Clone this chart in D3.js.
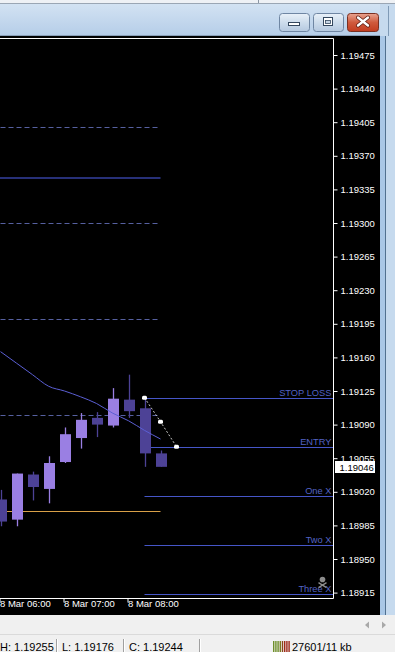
<!DOCTYPE html>
<meta charset="utf-8">
<style>
  body { margin: 0; background: #f0f0f0; }
  #chart { width: 395px; height: 652px; position: relative; overflow: hidden; }
  text { font-family: "Liberation Sans", Arial, sans-serif; }
</style>
<script src="https://d3js.org/d3.v7.min.js"></script>
<div id="chart"></div>
<script>
// M15 candles, 8 Mar
const times  = ["06:00","06:15","06:30","06:45","07:00","07:15","07:30","07:45","08:00","08:15","08:30"];
const open   = [1.19012,1.18991,1.19038,1.19023,1.19051,1.19076,1.19097,1.19089,1.19116,1.19107,1.19060];
const high   = [1.19022,1.19039,1.19041,1.19057,1.19087,1.19102,1.19103,1.19128,1.19142,1.19119,1.19063];
const low    = [1.18984,1.18984,1.19011,1.19008,1.19050,1.19065,1.19077,1.19087,1.19097,1.19046,1.19046];
const close  = [1.18989,1.19039,1.19025,1.19050,1.19080,1.19095,1.19090,1.19117,1.19104,1.19060,1.19046];
const maValues = [1.19166,1.19154,1.19142,1.19130,1.19125,1.19119,1.19112,1.19102,1.19094,1.19084,1.19075];

const priceTicks = [1.19475,1.19440,1.19405,1.19370,1.19335,1.19300,1.19265,1.19230,1.19195,
                    1.19160,1.19125,1.19090,1.19055,1.19020,1.18985,1.18950,1.18915];
const timeTicks = ["06:00","07:00","08:00"];

const dashedLevels = [1.19400,1.19300,1.19200,1.19100];
const solidLevels  = [1.19347];
const orangeLevels = [1.19000];
const levelEnd = "08:30";

const tradeNames  = ["STOP LOSS","ENTRY","One X","Two X","Three X"];
const tradePrices = [1.19118,1.19067,1.19016,1.18965,1.18914];
const tradeStart  = "08:15";

const triTimes  = ["08:15","08:30","08:45"];
const triPrices = [1.19118,1.19093,1.19067];

const lastPrice = 1.19046;
const statusTexts = ["H: 1.19255","L: 1.19176","C: 1.19244"];
const trafficText = "27601/11 kb";

const W = 395, H = 652;
const plot = {left: 0, top: 38.5, right: 333.5, bottom: 598.5};

const parse = d3.timeParse("%Y-%m-%d %H:%M");
const t = s => parse("2021-03-08 " + s);

const x = d3.scaleTime().domain([t("06:00"), t("08:00")]).range([0.5, 128.5]);
const y = d3.scaleLinear().domain([1.18915, 1.19475]).range([592.6, 55]);
const fmtTime = d3.timeFormat("%-d %b %H:%M");

const svg = d3.select("#chart").append("svg")
  .attr("width", W).attr("height", H);
const defs = svg.append("defs");

// ---- window chrome ----
const tg = defs.append("linearGradient").attr("id", "title").attr("x1", 0).attr("y1", 0).attr("x2", 0).attr("y2", 1);
tg.append("stop").attr("offset", "0%").attr("stop-color", "#d6e5f4");
tg.append("stop").attr("offset", "100%").attr("stop-color", "#b5cde8");
const bg = defs.append("linearGradient").attr("id", "btn").attr("x1", 0).attr("y1", 0).attr("x2", 0).attr("y2", 1);
bg.append("stop").attr("offset", "0%").attr("stop-color", "#e9f1f9");
bg.append("stop").attr("offset", "50%").attr("stop-color", "#cddcec");
bg.append("stop").attr("offset", "100%").attr("stop-color", "#b4c8df");
const cg = defs.append("linearGradient").attr("id", "close").attr("x1", 0).attr("y1", 0).attr("x2", 0).attr("y2", 1);
cg.append("stop").attr("offset", "0%").attr("stop-color", "#e9a491");
cg.append("stop").attr("offset", "50%").attr("stop-color", "#cf5a3d");
cg.append("stop").attr("offset", "100%").attr("stop-color", "#c23c1f");

svg.append("rect").attr("width", W).attr("height", 36).attr("fill", "url(#title)");
svg.append("rect").attr("width", W).attr("height", 3).attr("fill", "#eef1f5");
svg.append("line").attr("x1", 0).attr("x2", W).attr("y1", 3.5).attr("y2", 3.5).attr("stroke", "#9aa6b4");
svg.append("line").attr("x1", 258.5).attr("x2", 258.5).attr("y1", 0).attr("y2", 3).attr("stroke", "#8a96a4");
svg.append("line").attr("x1", 0).attr("x2", 381).attr("y1", 35.5).attr("y2", 35.5).attr("stroke", "#8aa0b8");

[[279, "min"], [313, "max"]].forEach(([bx, kind]) => {
  svg.append("rect").attr("x", bx + 0.5).attr("y", 13.5).attr("width", 30).attr("height", 18).attr("rx", 3)
    .attr("fill", "url(#btn)").attr("stroke", "#6f86a3");
  if (kind === "min") {
    svg.append("rect").attr("x", bx + 9.5).attr("y", 22.5).attr("width", 11).attr("height", 3)
      .attr("fill", "#fff").attr("stroke", "#34475e");
  } else {
    svg.append("rect").attr("x", bx + 10.5).attr("y", 17.5).attr("width", 9).attr("height", 8)
      .attr("fill", "#fff").attr("stroke", "#34475e");
    svg.append("rect").attr("x", bx + 12.5).attr("y", 20.5).attr("width", 5).attr("height", 3)
      .attr("fill", "#c7d6e6").attr("stroke", "#34475e").attr("stroke-width", 0.8);
  }
});
svg.append("rect").attr("x", 347.5).attr("y", 13.5).attr("width", 31).attr("height", 18).attr("rx", 3)
  .attr("fill", "url(#close)").attr("stroke", "#7a3022");
svg.append("path").attr("d", "M358,17.5 L368,25.5 M368,17.5 L358,25.5")
  .attr("stroke", "#5a1a10").attr("stroke-width", 4).attr("stroke-linecap", "round");
svg.append("path").attr("d", "M358,17.5 L368,25.5 M368,17.5 L358,25.5")
  .attr("stroke", "#fff").attr("stroke-width", 2.4).attr("stroke-linecap", "round");

// right frame
svg.append("rect").attr("x", 380).attr("y", 4).attr("width", 15).attr("height", 611).attr("fill", "#c6daee");
svg.append("rect").attr("x", 380).attr("y", 36).attr("width", 5).attr("height", 579).attr("fill", "#a9c7e6");
svg.append("line").attr("x1", 385.5).attr("x2", 385.5).attr("y1", 36).attr("y2", 615).attr("stroke", "#51708f");
svg.append("line").attr("x1", 388.5).attr("x2", 388.5).attr("y1", 6).attr("y2", 36).attr("stroke", "#7f9ab6");

// ---- chart area ----
svg.append("rect").attr("x", 0).attr("y", 36).attr("width", 380).attr("height", 579).attr("fill", "#000");

defs.append("clipPath").attr("id", "plotclip").append("rect")
  .attr("x", plot.left).attr("y", plot.top).attr("width", plot.right - plot.left).attr("height", plot.bottom - plot.top);
const g = svg.append("g").attr("clip-path", "url(#plotclip)");

// horizontal levels
const lvlX0 = x(t("05:30")), lvlX1 = x(t(levelEnd));
g.selectAll(".dash").data(dashedLevels).enter().append("line")
  .attr("x1", lvlX0).attr("x2", lvlX1).attr("y1", d => Math.round(y(d)) + 0.5).attr("y2", d => Math.round(y(d)) + 0.5)
  .attr("stroke", "#5660a0").attr("stroke-dasharray", "5,3");
g.selectAll(".solid").data(solidLevels).enter().append("line")
  .attr("x1", lvlX0).attr("x2", lvlX1).attr("y1", d => Math.round(y(d))).attr("y2", d => Math.round(y(d)))
  .attr("stroke", "#273078").attr("stroke-width", 2);
g.selectAll(".orange").data(orangeLevels).enter().append("line")
  .attr("x1", lvlX0).attr("x2", lvlX1).attr("y1", d => Math.round(y(d)) + 0.5).attr("y2", d => Math.round(y(d)) + 0.5)
  .attr("stroke", "#d9a048").attr("stroke-width", 1.2);

// trade levels
const trades = tradeNames.map((n, i) => ({name: n, price: tradePrices[i]}));
g.selectAll(".trade").data(trades).enter().append("line")
  .attr("x1", x(t(tradeStart))).attr("x2", plot.right)
  .attr("y1", d => Math.round(y(d.price)) + 0.5).attr("y2", d => Math.round(y(d.price)) + 0.5)
  .attr("stroke", "#4656c8");
g.selectAll(".tradeLbl").data(trades).enter().append("text")
  .attr("x", plot.right - 2).attr("y", d => Math.round(y(d.price)) - 2)
  .attr("text-anchor", "end").attr("font-size", 9.3).attr("fill", "#5363c4")
  .text(d => d.name);

// candles
const candles = times.map((s, i) => ({t: t(s), o: open[i], h: high[i], l: low[i], c: close[i]}));
const bodyW = 11;
const cg2 = g.selectAll(".candle").data(candles).enter().append("g");
cg2.append("line")
  .attr("x1", d => Math.round(x(d.t)) + 0.5).attr("x2", d => Math.round(x(d.t)) + 0.5)
  .attr("y1", d => y(d.h)).attr("y2", d => y(d.l))
  .attr("stroke", d => d.c >= d.o ? "#9a7fe3" : "#4d4296").attr("stroke-width", 1.3);
cg2.append("rect")
  .attr("x", d => Math.round(x(d.t)) - 5)
  .attr("y", d => y(Math.max(d.o, d.c)))
  .attr("width", bodyW)
  .attr("height", d => Math.max(1, Math.abs(y(d.o) - y(d.c))))
  .attr("fill", d => d.c >= d.o ? "#9a7fe3" : "#4d4296");

// moving average
const ma = times.map((s, i) => ({t: t(s), v: maValues[i]}));
g.append("path").datum(ma)
  .attr("fill", "none").attr("stroke", "#5b5fd4").attr("stroke-width", 1)
  .attr("d", d3.line().x(d => x(d.t)).y(d => y(d.v)).curve(d3.curveMonotoneX));

// triangle dotted line
const tri = triTimes.map((s, i) => ({t: t(s), p: triPrices[i]}));
g.append("path").datum(tri)
  .attr("fill", "none").attr("stroke", "#c8c8c8").attr("stroke-dasharray", "2,2")
  .attr("d", d3.line().x(d => x(d.t)).y(d => y(d.p)));
g.selectAll(".triPt").data(tri).enter().append("rect")
  .attr("x", d => x(d.t) - 2.5).attr("y", d => y(d.p) - 2).attr("width", 5).attr("height", 4).attr("rx", 1.5)
  .attr("fill", "#fff");

// small icon near last level
const icon = g.append("g").attr("transform", `translate(${plot.right - 11},${y(tradePrices[4]) - 14})`).attr("fill", "#8c8c8c");
icon.append("circle").attr("cx", 0).attr("cy", 0).attr("r", 2.8);
icon.append("path").attr("d", "M-4,3 L4,8 M4,3 L-4,8").attr("stroke", "#8c8c8c").attr("stroke-width", 1.4);

// frame
svg.append("path")
  .attr("d", `M${plot.left},${plot.top} H${plot.right} V${plot.bottom} H${plot.left}`)
  .attr("fill", "none").attr("stroke", "#fff");

// price axis
const yAxis = d3.axisRight(y).tickValues(priceTicks).tickSize(4).tickPadding(3).tickFormat(d3.format(".5f"));
const ya = svg.append("g").attr("transform", `translate(${plot.right},0)`).call(yAxis);
ya.select(".domain").remove();
ya.selectAll("line").attr("stroke", "#fff");
ya.selectAll("text").attr("fill", "#fff").attr("font-size", 9.5)
  .attr("font-family", "\"Liberation Sans\", Arial, sans-serif");

// last price box
const lp = svg.append("g").attr("transform", `translate(${plot.right + 1.5},${Math.round(y(lastPrice))})`);
lp.append("rect").attr("x", 0).attr("y", -6).attr("width", 40).attr("height", 12).attr("fill", "#fff");
lp.append("text").attr("x", 4.5).attr("y", 3.5).attr("font-size", 9.5).attr("fill", "#000")
  .text(d3.format(".5f")(lastPrice));

// time axis
const xAxis = d3.axisBottom(x).tickValues(timeTicks.map(t)).tickSize(4).tickFormat(fmtTime);
const xa = svg.append("g").attr("transform", `translate(-1,${plot.bottom})`).call(xAxis);
xa.select(".domain").remove();
xa.selectAll("line").attr("stroke", "#fff");
xa.selectAll("text").attr("fill", "#fff").attr("font-size", 9.5).attr("text-anchor", "start")
  .attr("x", 0).attr("dy", "0.2em")
  .attr("font-family", "\"Liberation Sans\", Arial, sans-serif");

// ---- scrollbar & status bar ----
svg.append("rect").attr("x", 0).attr("y", 615).attr("width", W).attr("height", 19).attr("fill", "#f0f0f0");
svg.append("path").attr("d", "M369,621.5 L365,625 L369,628.5 Z").attr("fill", "#a8a8a8");
svg.append("path").attr("d", "M382,621.5 L386,625 L382,628.5 Z").attr("fill", "#a8a8a8");
svg.append("line").attr("x1", 0).attr("x2", W).attr("y1", 634.5).attr("y2", 634.5).attr("stroke", "#dadada");

const sx = [0, 62, 129];
svg.selectAll(".status").data(statusTexts).enter().append("text")
  .attr("x", (d, i) => sx[i]).attr("y", 651).attr("font-size", 11).attr("fill", "#000")
  .attr("font-family", "\"Liberation Sans\", Arial, sans-serif")
  .text(d => d);
[56, 123, 199].forEach(px => {
  svg.append("line").attr("x1", px + 0.5).attr("x2", px + 0.5).attr("y1", 639).attr("y2", 652).attr("stroke", "#a0a0a0");
  svg.append("line").attr("x1", px + 1.5).attr("x2", px + 1.5).attr("y1", 639).attr("y2", 652).attr("stroke", "#fff");
});
const barCols = ["#6f8f2a","#6f8f2a","#6f8f2a","#7a7a20","#8a4a1a","#a02a18","#a02a18","#a02a18"];
svg.selectAll(".sig").data(barCols).enter().append("rect")
  .attr("x", (d, i) => 273 + i * 2.2).attr("y", 641).attr("width", 1.4).attr("height", 11)
  .attr("fill", d => d);
svg.append("text").attr("x", 292).attr("y", 651).attr("font-size", 11).attr("fill", "#000")
  .attr("font-family", "\"Liberation Sans\", Arial, sans-serif").text(trafficText);
</script>
